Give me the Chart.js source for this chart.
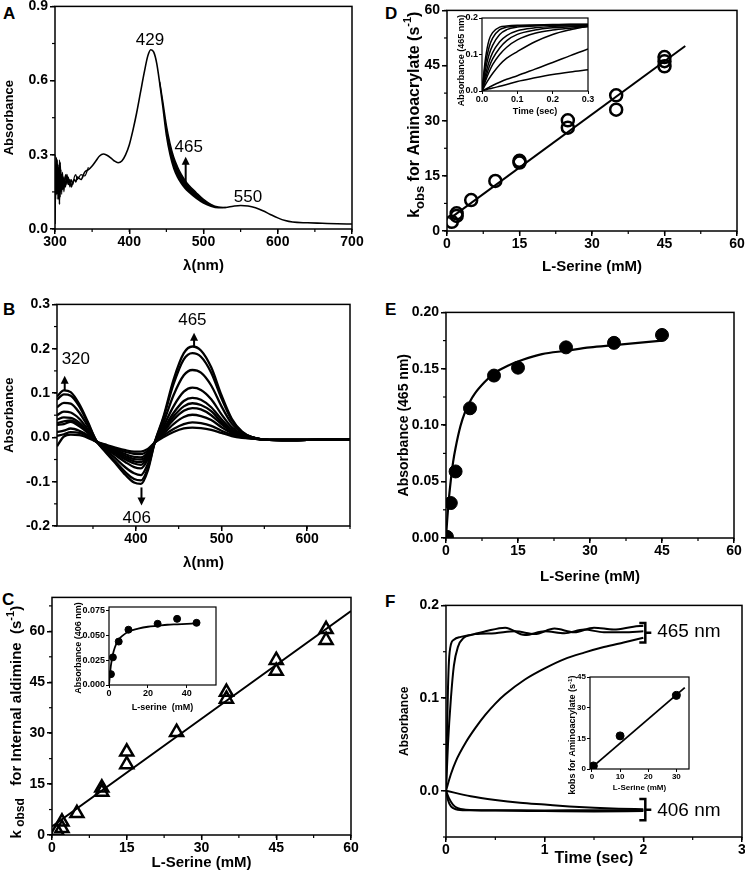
<!DOCTYPE html>
<html>
<head>
<meta charset="utf-8">
<script src="https://cdn.jsdelivr.net/npm/chart.js@4.4.1/dist/chart.umd.min.js"></script>
<style>
  html, body { margin: 0; padding: 0; background: #fff; width: 745px; height: 880px; overflow: hidden; position: relative; }
  canvas { position: absolute; }
  .tag { position: absolute; font: bold 17px "Liberation Sans", Arial, sans-serif; line-height: 1; color: #000; }
</style>
</head>
<body>
<div class="tag" style="left:3px;top:5px">A</div>
<div class="tag" style="left:3px;top:301px">B</div>
<div class="tag" style="left:2px;top:591px">C</div>
<div class="tag" style="left:385px;top:5px">D</div>
<div class="tag" style="left:385px;top:301px">E</div>
<div class="tag" style="left:385px;top:593px">F</div>
<script>
// ── Panel A: absorbance spectra ──────────────────────────────────────────
const lambdaA = [300,301,302,303,304,305,306,307,308,309,310,
  312,314,316,318,320,322,324,326,328,330,
  335,340,345,350,355,360,365,370,375,380,385,390,395,400,405,410,415,420,425,
  429,433,437,441,
  445,450,455,460,465,470,475,480,
  490,500,510,520,530,540,550,560,570,580,590,600,610,620,
  640,660,680,700];
const absA = [0.02,0.25,0.14,0.28,0.12,0.24,0.10,0.27,0.15,0.22,0.16,
  0.21,0.17,0.22,0.18,0.20,0.17,0.19,0.20,0.19,0.21,
  0.20,0.23,0.24,0.255,0.275,0.295,0.303,0.298,0.288,0.275,0.268,0.275,0.30,0.34,0.40,0.47,0.55,0.63,0.70,
  0.725,0.715,0.67,0.59,
  0.50,0.38,0.30,0.245,0.21,0.185,0.165,0.15,
  0.125,0.105,0.092,0.086,0.087,0.092,0.095,0.093,0.086,0.074,0.059,0.045,0.034,0.028,
  0.025,0.023,0.021,0.020];
const lambdaNoise = [300,301,302,303,304,305,306,307,308,309,310,312,314,316,318,320,322,324,326,328,330,335,340,345];
const absNoise = [0.30,0.12,0.29,0.15,0.26,0.17,0.28,0.13,0.24,0.14,0.23,0.15,0.22,0.18,0.21,0.17,0.20,0.18,0.21,0.22,0.20,0.22,0.215,0.25];
const lambdaBand = [441,445,450,455,460,465,470,475,480,490,500,510,520,530];
const absBand = [0.595,0.52,0.42,0.345,0.29,0.252,0.222,0.198,0.178,0.148,0.12,0.1,0.089,0.087];
const ticksAx = [300,400,500,600,700];
const ticksAy = [0,0.3,0.6,0.9];

// ── Panel B: difference spectra ──────────────────────────────────────────
const lambdaB = [308,316,324,334,344,354,364,376,388,398,406,414,422,432,444,456,466,476,488,500,512,524,536,550,580,620,650];
const diffB1 = [.092,.106,.102,.075,.035,-.008,-.032,-.058,-.085,-.102,-.105,-.075,-.012,.045,.13,.19,.205,.196,.158,.095,.042,.013,0,-.005,-.006,-.005,-.005];
const diffB2 = [.085,.097,.094,.07,.032,-.008,-.03,-.054,-.079,-.094,-.097,-.07,-.012,.042,.12,.176,.19,.182,.146,.088,.039,.012,0,-.005,-.006,-.005,-.005];
const diffB3 = [.068,.078,.076,.056,.025,-.008,-.027,-.047,-.068,-.081,-.085,-.06,-.012,.032,.095,.14,.152,.146,.117,.07,.031,.01,0,-.005,-.006,-.005,-.005];
const diffB4 = [.05,.058,.056,.042,.018,-.008,-.024,-.04,-.056,-.067,-.07,-.05,-.012,.024,.07,.103,.112,.107,.086,.052,.023,.007,0,-.005,-.006,-.005,-.005];
const diffB5 = [.04,.045,.044,.033,.014,-.01,-.022,-.036,-.05,-.059,-.062,-.045,-.012,.018,.055,.082,.089,.085,.068,.041,.018,.005,0,-.005,-.006,-.005,-.005];
const diffB6 = [.032,.036,.038,.028,.012,-.01,-.021,-.033,-.046,-.054,-.056,-.041,-.012,.015,.047,.07,.077,.073,.059,.035,.015,.004,-.001,-.005,-.006,-.005,-.005];
const diffB7 = [.028,.03,.035,.025,.01,-.01,-.02,-.031,-.042,-.049,-.05,-.038,-.012,.012,.04,.06,.066,.063,.05,.03,.013,.003,-.001,-.005,-.006,-.005,-.005];
const diffB8 = [.012,.015,.02,.015,.005,-.01,-.018,-.028,-.038,-.044,-.045,-.034,-.012,.008,.03,.046,.051,.048,.039,.023,.01,.002,-.002,-.005,-.006,-.005,-.005];
const diffB9 = [.003,.007,.012,.01,.002,-.01,-.017,-.025,-.033,-.037,-.038,-.03,-.012,.004,.019,.03,.034,.032,.026,.015,.006,0,-.003,-.005,-.006,-.005,-.005];
const diffB10 = [-.02,.002,.006,.005,-.001,-.01,-.016,-.023,-.029,-.032,-.032,-.026,-.012,0,.012,.02,.022,.021,.017,.01,.003,-.001,-.003,-.005,-.006,-.005,-.005];
const ticksBx = [400,500,600];
const ticksBy = [-0.2,-0.1,0,0.1,0.2,0.3];

// ── Panel C: k obsd for internal aldimine ────────────────────────────────
const serineC = [1,2,2,5,10,10,15,15,25,35,35,45,45,55,55];
const kobsdC = [1.2,2.0,3.9,6.4,12.7,13.9,20.8,24.5,30.3,40.1,42.1,48.3,51.5,57.4,60.6];
const fitCx = [0,60];
const fitCy = [2.5,66];
const ticksC = [0,15,30,45,60];
// inset: absorbance at 406 nm
const serineCi = [1,2,5,10,25,35,45];
const absCi = [0.011,0.028,0.044,0.056,0.062,0.067,0.063];
const fitCix = [0,0.5,1,2,3,5,7,10,15,20,25,30,35,40,45];
const fitCiy = [0,0.011,0.02,0.031,0.038,0.046,0.05,0.054,0.057,0.059,0.06,0.061,0.0615,0.062,0.0625];
const ticksCix = [0,20,40];
const ticksCiy = [0,0.025,0.05,0.075];

// ── Panel D: k obs for aminoacrylate ─────────────────────────────────────
const serineD = [1,2,2,5,10,15,15,25,25,35,35,45,45,45];
const kobsD = [2.5,4.1,4.8,8.4,13.6,18.6,19.1,28.1,30.1,33.0,36.9,44.8,46.2,47.3];
const fitDx = [0.5,49.3];
const fitDy = [3.3,50.3];
const ticksD = [0,15,30,45,60];
// inset: traces at 465 nm
const timeDi = [0,0.01,0.02,0.03,0.05,0.07,0.1,0.15,0.2,0.25,0.3];
const traceD1 = [0,.09,.14,.16,.175,.178,.18,.181,.182,.183,.183];
const traceD2 = [0,.075,.12,.145,.168,.175,.178,.18,.181,.182,.182];
const traceD3 = [0,.06,.1,.125,.155,.168,.175,.178,.18,.181,.181];
const traceD4 = [0,.045,.08,.105,.135,.152,.165,.173,.177,.178,.179];
const traceD5 = [0,.035,.065,.088,.118,.138,.155,.167,.173,.176,.178];
const traceD6 = [0,.028,.052,.072,.1,.12,.14,.158,.167,.172,.176];
const traceD7 = [0,.018,.034,.048,.072,.09,.108,.135,.155,.168,.178];
const traceD8 = [0,.005,.01,.015,.024,.032,.042,.06,.078,.097,.115];
const traceD9 = [0,.003,.006,.008,.013,.018,.026,.036,.045,.052,.058];
const ticksDix = [0,0.1,0.2,0.3];
const ticksDiy = [0,0.1,0.2];

// ── Panel E: absorbance at 465 nm vs serine ──────────────────────────────
const serineE = [0.2,1,2,5,10,15,25,35,45];
const absE = [0.001,0.031,0.059,0.115,0.144,0.151,0.169,0.173,0.180];
const fitEx = [0,0.25,0.5,1,1.5,2,3,4,5,6,8,10,13,16,20,25,30,35,40,45];
const fitEy = [0,0.016,0.03,0.051,0.068,0.08,0.099,0.112,0.121,0.128,0.138,0.146,0.153,0.158,0.163,0.166,0.169,0.171,0.173,0.175];
const ticksEx = [0,15,30,45,60];
const ticksEy = [0,0.05,0.1,0.15,0.2];

// ── Panel F: time courses ────────────────────────────────────────────────
const timeF1 = [0,0.01,0.02,0.03,0.05,0.08,0.15,0.3,0.5,0.7,0.9,1.1,1.3,1.5,1.7,1.9,2.0];
const absF1 = [0,0.06,0.11,0.14,0.158,0.163,0.166,0.169,0.17,0.172,0.169,0.175,0.171,0.176,0.174,0.177,0.178];
const timeF2 = [0,0.02,0.05,0.08,0.12,0.18,0.25,0.4,0.6,0.8,1.0,1.2,1.4,1.6,1.8,2.0];
const absF2 = [0,0.05,0.1,0.135,0.155,0.165,0.168,0.172,0.176,0.168,0.172,0.17,0.174,0.171,0.171,0.172];
const timeF3 = [0,0.05,0.1,0.2,0.3,0.4,0.5,0.6,0.8,1.0,1.2,1.4,1.6,1.8,2.0];
const absF3 = [0,0.018,0.032,0.052,0.068,0.082,0.094,0.104,0.12,0.132,0.142,0.149,0.155,0.16,0.165];
const timeF4 = [0,0.02,0.05,0.1,0.2,0.5,1.0,1.5,2.0];
const absF4 = [0,-0.01,-0.017,-0.02,-0.021,-0.021,-0.0215,-0.021,-0.021];
const timeF5 = [0,0.03,0.07,0.12,0.2,0.5,1.0,1.5,2.0];
const absF5 = [0,-0.008,-0.015,-0.019,-0.0205,-0.0215,-0.022,-0.0225,-0.022];
const timeF6 = [0,0.25,0.5,0.75,1.0,1.25,1.5,1.75,2.0];
const absF6 = [0,-0.006,-0.01,-0.013,-0.015,-0.017,-0.0185,-0.0195,-0.02];
const ticksFx = [0,1,2,3];
const ticksFy = [0,0.1,0.2];
// inset: kobs vs serine
const serineFi = [0.5,10,30];
const kobsFi = [1.5,16.2,36];
const fitFix = [0,33];
const fitFiy = [0.8,39.8];
const ticksFix = [0,10,20,30];
const ticksFiy = [0,15,30,45];

// ── helpers ──────────────────────────────────────────────────────────────
const FONT = '"Liberation Sans", Arial, Helvetica, sans-serif';

const decor = {
  id: 'decor',
  afterDraw(chart, args, o) {
    const { ctx, chartArea: a } = chart;
    const sx = chart.scales.x, sy = chart.scales.y;
    ctx.save();
    ctx.strokeStyle = '#000';
    ctx.fillStyle = '#000';
    ctx.lineWidth = o.frame || 1.5;
    ctx.strokeRect(a.left, a.top, a.right - a.left, a.bottom - a.top);

    ctx.lineWidth = 1.2;
    if (o.minorX) {
      for (let v = Math.ceil(sx.min / o.minorX) * o.minorX; v <= sx.max + 1e-9; v += o.minorX) {
        const px = sx.getPixelForValue(v);
        ctx.beginPath(); ctx.moveTo(px, a.bottom); ctx.lineTo(px, a.bottom + 3); ctx.stroke();
      }
    }
    if (o.minorY) {
      for (let v = Math.ceil(sy.min / o.minorY) * o.minorY; v <= sy.max + 1e-9; v += o.minorY) {
        const py = sy.getPixelForValue(v);
        ctx.beginPath(); ctx.moveTo(a.left, py); ctx.lineTo(a.left - 3, py); ctx.stroke();
      }
    }

    (o.arrows || []).forEach(ar => {
      const px = sx.getPixelForValue(ar.x);
      const p1 = sy.getPixelForValue(ar.y1), p2 = sy.getPixelForValue(ar.y2);
      const dir = Math.sign(p2 - p1);
      ctx.lineWidth = 2;
      ctx.beginPath(); ctx.moveTo(px, p1); ctx.lineTo(px, p2 - dir * 5); ctx.stroke();
      ctx.beginPath(); ctx.moveTo(px, p2); ctx.lineTo(px - 4, p2 - dir * 8); ctx.lineTo(px + 4, p2 - dir * 8); ctx.closePath(); ctx.fill();
    });

    (o.brackets || []).forEach(br => {
      const px = sx.getPixelForValue(br.x);
      const p1 = sy.getPixelForValue(br.y1), p2 = sy.getPixelForValue(br.y2);
      const mid = (p1 + p2) / 2;
      ctx.lineWidth = 2.5;
      ctx.beginPath();
      ctx.moveTo(px - 6, p1); ctx.lineTo(px, p1); ctx.lineTo(px, p2); ctx.lineTo(px - 6, p2);
      ctx.moveTo(px, mid); ctx.lineTo(px + 6, mid);
      ctx.stroke();
    });

    (o.texts || []).forEach(t => {
      ctx.font = `${t.weight || 'normal'} ${t.size || 17}px ${FONT}`;
      ctx.textAlign = t.align || 'center';
      ctx.textBaseline = 'middle';
      ctx.fillText(t.text, sx.getPixelForValue(t.x), sy.getPixelForValue(t.y));
    });

    if (o.richY) {
      const r = o.richY;
      const cx = a.left - r.dx, cy = (a.top + a.bottom) / 2 + (r.shift || 0);
      ctx.translate(cx, cy);
      ctx.rotate(-Math.PI / 2);
      ctx.textAlign = 'left';
      ctx.textBaseline = 'middle';
      let total = 0;
      r.parts.forEach(p => { ctx.font = `bold ${p.s}px ${FONT}`; p.w = ctx.measureText(p.t).width; total += p.w; });
      let cur = -total / 2;
      r.parts.forEach(p => { ctx.font = `bold ${p.s}px ${FONT}`; ctx.fillText(p.t, cur, p.dy || 0); cur += p.w; });
    }
    ctx.restore();
  }
};
Chart.register(decor);

function axis(o, pos, size, small) {
  return {
    type: 'linear', position: pos, min: o.min, max: o.max,
    afterBuildTicks: s => { s.ticks = o.ticks.map(v => ({ value: v })); },
    afterFit: s => { if (pos === 'left') s.width = size; else s.height = size; },
    grid: { drawOnChartArea: false, drawTicks: true, tickLength: small ? 3 : 5, color: '#000', lineWidth: small ? 1 : 1.5 },
    border: { display: false },
    ticks: {
      color: '#000', padding: pos === 'left' ? (small ? 1 : 2) : 0, autoSkip: false, maxRotation: 0,
      font: { family: FONT, size: o.fs || 14, weight: 'bold' },
      callback: v => Number(v).toFixed(o.dec || 0)
    },
    title: o.title
      ? { display: true, text: o.title, color: '#000', padding: 0, font: { family: FONT, size: o.tfs || 15, weight: 'bold' } }
      : { display: false }
  };
}

function makeChart(box, datasets, xo, yo, decorOpts) {
  const padT = box.padT ?? 10, padR = box.padR ?? 14, padB = 2;
  const cv = document.createElement('canvas');
  const w = Math.round(box.r - box.l + box.yw + padR);
  const h = Math.round(box.b - box.t + padT + box.xh + padB);
  cv.width = w; cv.height = h;
  cv.style.width = w + 'px'; cv.style.height = h + 'px';
  cv.style.left = (box.l - box.yw) + 'px';
  cv.style.top = (box.t - padT) + 'px';
  document.body.appendChild(cv);
  return new Chart(cv.getContext('2d'), {
    type: 'line',
    data: { datasets },
    options: {
      responsive: false, animation: false, devicePixelRatio: 1, events: [],
      layout: { padding: { top: padT, right: padR, bottom: padB, left: 0 } },
      scales: { x: axis(xo, 'bottom', box.xh, box.small), y: axis(yo, 'left', box.yw, box.small) },
      plugins: { legend: { display: false }, tooltip: { enabled: false }, decor: decorOpts || {} }
    }
  });
}

function curve(xs, ys, w, extra) {
  return Object.assign({
    data: xs.map((x, i) => ({ x, y: ys[i] })),
    borderColor: '#000', borderWidth: w, pointRadius: 0, fill: false,
    cubicInterpolationMode: 'monotone'
  }, extra || {});
}

function marks(xs, ys, style, r, filled, bw) {
  return {
    data: xs.map((x, i) => ({ x, y: ys[i] })),
    showLine: false, pointStyle: style, pointRadius: r,
    borderColor: '#000', borderWidth: bw,
    backgroundColor: filled ? '#000' : 'rgba(0,0,0,0)'
  };
}

// ── A ──
makeChart({ l: 55, t: 6, r: 352, b: 229, yw: 53, xh: 46 },
  [
    curve(lambdaA, absA, 1.6),
    curve(lambdaNoise, absNoise, 1.2),
    curve(lambdaBand, absBand, 1.4, { fill: 0, backgroundColor: '#000' })
  ],
  { min: 300, max: 700, ticks: ticksAx, title: 'λ(nm)' },
  { min: 0, max: 0.9, ticks: ticksAy, dec: 1, title: 'Absorbance', tfs: 13 },
  {
    minorX: 50, minorY: 0.15,
    texts: [{ x: 428, y: 0.763, text: '429' }, { x: 480, y: 0.332, text: '465' }, { x: 560, y: 0.13, text: '550' }],
    arrows: [{ x: 476, y1: 0.184, y2: 0.292 }]
  });

// ── B ──
makeChart({ l: 57, t: 304, r: 350, b: 526, yw: 55, xh: 46 },
  [diffB1, diffB2, diffB3, diffB4, diffB5, diffB6, diffB7, diffB8, diffB9, diffB10].map(d => curve(lambdaB, d, 2.3)),
  { min: 308, max: 650, ticks: ticksBx, title: 'λ(nm)' },
  { min: -0.2, max: 0.3, ticks: ticksBy, dec: 1, title: 'Absorbance', tfs: 13 },
  {
    minorX: 50, minorY: 0.05,
    texts: [{ x: 330, y: 0.177, text: '320' }, { x: 466, y: 0.264, text: '465' }, { x: 401, y: -0.182, text: '406' }],
    arrows: [{ x: 317, y1: 0.105, y2: 0.139 }, { x: 468, y1: 0.206, y2: 0.236 }, { x: 406.6, y1: -0.113, y2: -0.154 }]
  });

// ── C ──
makeChart({ l: 52, t: 597, r: 351, b: 835, yw: 52, xh: 37 },
  [
    curve(fitCx, fitCy, 2),
    marks(serineC, kobsdC, 'triangle', 7.5, false, 2.5)
  ],
  { min: 0, max: 60, ticks: ticksC, title: 'L-Serine (mM)' },
  { min: 0, max: 70, ticks: ticksC },
  {
    minorX: 7.5, minorY: 7.5,
    richY: { dx: 35, shift: 6, parts: [
      { t: 'k', s: 15 }, { t: ' obsd', s: 12, dy: 4 }, { t: '   for Internal aldimine  (s', s: 15 },
      { t: '-1', s: 11, dy: -6 }, { t: ')', s: 15 }] }
  });

// ── C inset ──
makeChart({ l: 109, t: 607, r: 216, b: 685, yw: 35, xh: 28, padT: 12, padR: 10, small: true },
  [
    curve(fitCix, fitCiy, 1.8),
    marks(serineCi, absCi, 'circle', 3.5, true, 1)
  ],
  { min: 0, max: 55, ticks: ticksCix, fs: 9, title: 'L-serine  (mM)', tfs: 9 },
  { min: 0, max: 0.079, ticks: ticksCiy, dec: 3, fs: 9 },
  { frame: 1.2, richY: { dx: 30, shift: 2, parts: [{ t: 'Absorbance (406 nm)', s: 9 }] } });

// ── D ──
makeChart({ l: 447, t: 10, r: 737, b: 231, yw: 62, xh: 45 },
  [
    curve(fitDx, fitDy, 2),
    marks(serineD, kobsD, 'circle', 6, false, 2.5)
  ],
  { min: 0, max: 60, ticks: ticksD, title: 'L-Serine (mM)' },
  { min: 0, max: 60, ticks: ticksD },
  {
    minorX: 7.5, minorY: 7.5,
    richY: { dx: 32, shift: -6, parts: [
      { t: 'k', s: 16 }, { t: 'obs', s: 13, dy: 5 }, { t: ' for Aminoacrylate (s', s: 16 },
      { t: '-1', s: 11, dy: -7 }, { t: ')', s: 16 }] }
  });

// ── D inset ──
makeChart({ l: 482, t: 18, r: 588, b: 91, yw: 26, xh: 26, padT: 14, padR: 10, small: true },
  [traceD1, traceD2, traceD3, traceD4, traceD5, traceD6, traceD7, traceD8, traceD9].map(d => curve(timeDi, d, 1.5)),
  { min: 0, max: 0.3, ticks: ticksDix, dec: 1, fs: 9, title: 'Time (sec)', tfs: 9 },
  { min: 0, max: 0.2, ticks: ticksDiy, dec: 1, fs: 9 },
  { frame: 1.2, richY: { dx: 20, shift: 6, parts: [{ t: 'Absorbance (465 nm)', s: 9 }] } });

// ── E ──
makeChart({ l: 446, t: 312, r: 734, b: 538, yw: 50, xh: 48 },
  [
    curve(fitEx, fitEy, 2.2),
    marks(serineE, absE, 'circle', 6.5, true, 1)
  ],
  { min: 0, max: 60, ticks: ticksEx, title: 'L-Serine (mM)' },
  { min: 0, max: 0.2, ticks: ticksEy, dec: 2, title: 'Absorbance (465 nm)', tfs: 14 },
  { minorX: 7.5, minorY: 0.025 });

// ── F ──
makeChart({ l: 446, t: 605, r: 742, b: 837, yw: 49, xh: 31 },
  [
    curve(timeF1, absF1, 2), curve(timeF2, absF2, 2), curve(timeF3, absF3, 2),
    curve(timeF4, absF4, 2), curve(timeF5, absF5, 2), curve(timeF6, absF6, 2)
  ],
  { min: 0, max: 3, ticks: ticksFx, title: 'Time (sec)', tfs: 16 },
  { min: -0.05, max: 0.2, ticks: ticksFy, dec: 1, title: 'Absorbance', tfs: 12 },
  {
    minorX: 0.5, minorY: 0.05,
    brackets: [{ x: 2.02, y1: 0.181, y2: 0.160 }, { x: 2.02, y1: -0.009, y2: -0.032 }],
    texts: [{ x: 2.14, y: 0.171, text: '465 nm', size: 19, align: 'left' }, { x: 2.14, y: -0.0215, text: '406 nm', size: 19, align: 'left' }]
  });

// ── F inset ──
makeChart({ l: 590, t: 677, r: 689, b: 769, yw: 24, xh: 24, padT: 12, padR: 10, small: true },
  [
    curve(fitFix, fitFiy, 1.8),
    marks(serineFi, kobsFi, 'circle', 4, true, 1)
  ],
  { min: -0.7, max: 34.5, ticks: ticksFix, fs: 8, title: 'L-Serine (mM)', tfs: 8 },
  { min: 0, max: 45, ticks: ticksFiy, fs: 8 },
  {
    frame: 1.2,
    richY: { dx: 17, shift: 12, parts: [
      { t: 'kobs for Aminoacrylate (s', s: 9 }, { t: '-1', s: 6, dy: -3 }, { t: ')', s: 9 }] }
  });
</script>
</body>
</html>
